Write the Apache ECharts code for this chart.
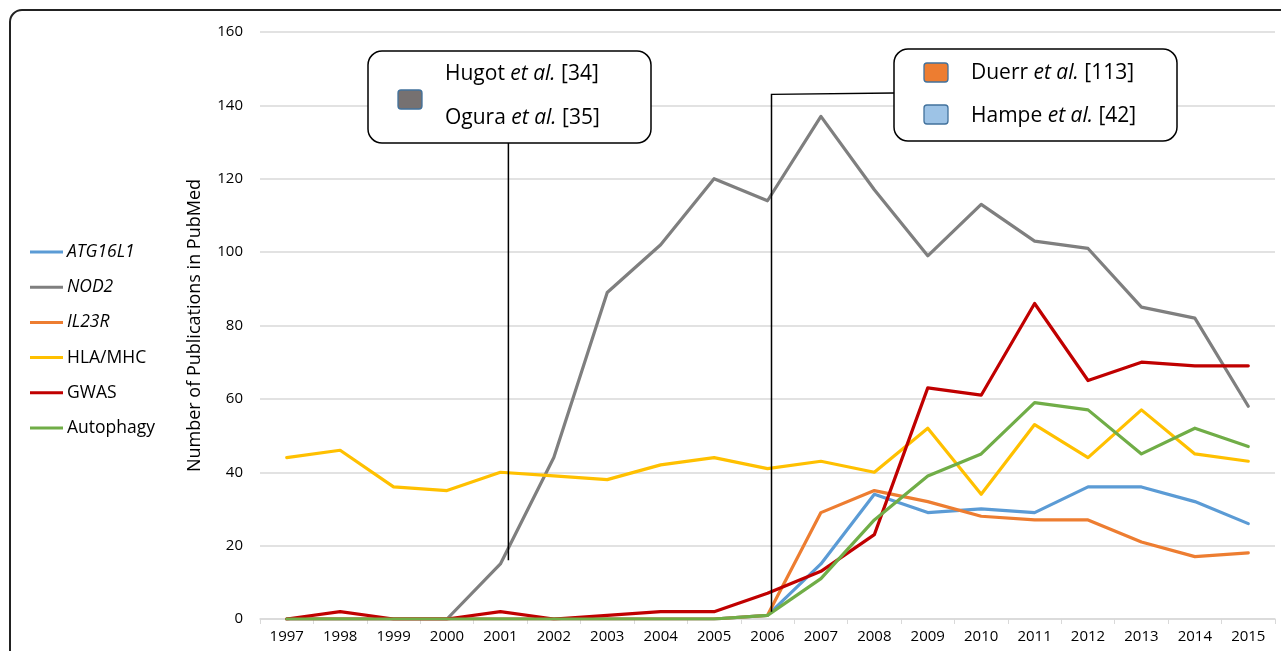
<!DOCTYPE html>
<html><head><meta charset="utf-8">
<script src="https://cdn.jsdelivr.net/npm/echarts@6/dist/echarts.min.js"></script>
<style>html,body{margin:0;padding:0;background:#fff}#c{width:1281px;height:651px}</style>
</head><body><div id="c"></div>
<script>
const years = ['1997','1998','1999','2000','2001','2002','2003','2004','2005','2006','2007','2008','2009','2010','2011','2012','2013','2014','2015'];
const atg16l1 = [0,0,0,0,0,0,0,0,0,1,15,34,29,30,29,36,36,32,26];
const nod2 = [0,0,0,0,15,44,89,102,120,114,137,117,99,113,103,101,85,82,58];
const il23r = [0,0,0,0,0,0,0,0,0,1,29,35,32,28,27,27,21,17,18];
const hla = [44,46,36,35,40,39,38,42,44,41,43,40,52,34,53,44,57,45,43];
const gwas = [0,2,0,0,2,0,1,2,2,7,13,23,63,61,86,65,70,69,69];
const autophagy = [0,0,0,0,0,0,0,0,0,1,11,27,39,45,59,57,45,52,47];
const yTicks = [0,20,40,60,80,100,120,140,160];

const FONT = '"Open Sans", sans-serif';
const chart = echarts.init(document.getElementById('c'), null, {renderer:'canvas'});
const mk = (name, data, color) => ({name, type:'line', data, symbol:'none', smooth:false,
  lineStyle:{width:3.2, color, cap:'round', join:'round'}, itemStyle:{color}, z:3});
const series = [
  mk('ATG16L1', atg16l1, '#5B9BD5'),
  mk('NOD2', nod2, '#7F7F7F'),
  mk('IL23R', il23r, '#ED7D31'),
  mk('HLA/MHC', hla, '#FFC000'),
  mk('GWAS', gwas, '#C00000'),
  mk('Autophagy', autophagy, '#70AD47')
];
const italic = {fontStyle:'italic'};
chart.setOption({
  animation:false,
  textStyle:{fontFamily:FONT},
  grid:{left:260, right:6, top:32, bottom:32, containLabel:false},
  legend:{orient:'vertical', left:25, top:238, icon:'rect', itemWidth:33, itemHeight:3, itemGap:17.2,
    textStyle:{fontSize:17.5, lineHeight:18, color:'#000', fontFamily:FONT, padding:[0,0,0,-1]},
    data:[{name:'ATG16L1',textStyle:italic},{name:'NOD2',textStyle:italic},{name:'IL23R',textStyle:italic},'HLA/MHC','GWAS','Autophagy']},
  xAxis:{type:'category', data:years, boundaryGap:true,
    axisLine:{lineStyle:{color:'#d9d9d9', width:1.5}},
    axisTick:{show:true, length:5, lineStyle:{color:'#d9d9d9'}},
    axisLabel:{color:'#000', fontSize:15, margin:10, fontFamily:FONT}},
  yAxis:{type:'value', min:0, max:160, interval:20,
    name:'Number of Publications in PubMed', nameLocation:'middle', nameGap:56,
    nameTextStyle:{fontSize:18, color:'#000', fontFamily:FONT},
    axisLine:{show:false}, axisTick:{show:false},
    axisLabel:{color:'#000', fontSize:15, margin:17, fontFamily:FONT,
      formatter: v => yTicks.includes(v) ? String(v) : ''},
    splitLine:{lineStyle:{color:'#d9d9d9', width:1.5}}},
  series
});

function callout(x, y, w, h, items) {
  const children = [{type:'rect', shape:{x:0,y:0,width:w,height:h,r:14}, style:{fill:'#fff', stroke:'#000', lineWidth:1.5}}];
  items.forEach(it => {
    if (it.swatch) children.push({type:'rect', shape:{x:it.sx, y:it.sy, width:24, height:19, r:3},
      style:{fill:it.swatch, stroke:'#41719C', lineWidth:1.3}});
    children.push({type:'text', x:it.tx, y:it.ty, style:{
      text:'{n|'+it.a+'}{i|et al.}{n| '+it.b+'}',
      rich:{n:{fontSize:21, fontFamily:FONT, fill:'#000'}, i:{fontSize:21, fontFamily:FONT, fontStyle:'italic', fill:'#000'}},
      verticalAlign:'middle'}});
  });
  return {type:'group', x, y, children, z:10};
}

function place() {
  const p2001 = chart.convertToPixel({seriesIndex:1}, [4, 16]);
  const p2006a = chart.convertToPixel({seriesIndex:1}, [9, 2]);
  const p2006b = chart.convertToPixel({seriesIndex:1}, [9, 143]);
  const x1 = p2001[0] + 8, x2 = p2006a[0] + 4;
  chart.setOption({graphic:[
    {type:'rect', shape:{x:10, y:10, width:1400, height:800, r:12}, style:{fill:'none', stroke:'#222', lineWidth:2}, z:1},
    {type:'line', shape:{x1:x1, y1:143, x2:x1, y2:p2001[1]}, style:{stroke:'#000', lineWidth:1.5}, z:9},
    {type:'polyline', shape:{points:[[x2, p2006a[1]],[x2, p2006b[1]],[894, 93]]}, style:{stroke:'#000', lineWidth:1.5, fill:'none'}, z:9},
    callout(368, 51, 283, 92, [
      {swatch:'#767171', sx:30, sy:39, tx:77, ty:23, a:'Hugot ', b:'[34]'},
      {tx:77, ty:67, a:'Ogura ', b:'[35]'}
    ]),
    callout(894, 49, 283, 92, [
      {swatch:'#ED7D31', sx:30, sy:14, tx:77, ty:24, a:'Duerr ', b:'[113]'},
      {swatch:'#9DC3E6', sx:30, sy:56, tx:77, ty:67, a:'Hampe ', b:'[42]'}
    ])
  ]});
}
place();
</script></body></html>
